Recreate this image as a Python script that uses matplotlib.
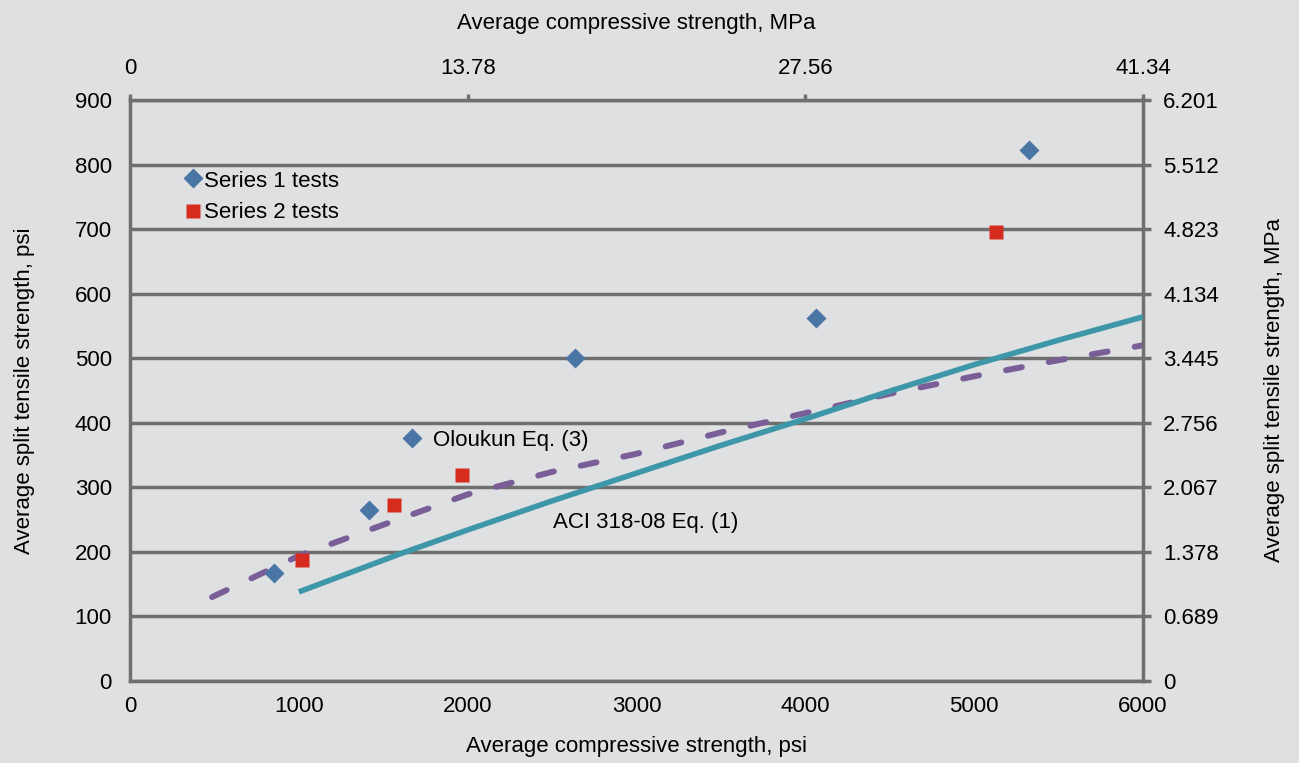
import numpy as np
import matplotlib
matplotlib.use("Agg")
import matplotlib.pyplot as plt

plt.rcParams['font.family'] = ['Liberation Sans', 'DejaVu Sans']

# data (psi)
s1_fc = [853, 1416, 2636, 4063, 5325]
s1_ft = [167, 265, 500, 562, 822]
s2_fc = [1019, 1564, 1966, 5129]
s2_ft = [187, 273, 319, 695]

aci_fc = [1000, 1600, 2000, 2500, 3000, 3500, 4000, 4500, 5000, 5500, 6000]
aci_ft = [138, 197, 234, 279, 322, 365, 406, 449, 490, 528, 564]

olo_fc = [486, 1000, 1500, 2000, 2500, 3000, 3500, 4000, 4500, 5000, 5500, 6000]
olo_ft = [130, 194, 242, 289, 324, 352, 385, 415, 445, 472, 497, 520]

y_ticks = [0, 100, 200, 300, 400, 500, 600, 700, 800, 900]
mpa_right = ['0', '0.689', '1.378', '2.067', '2.756', '3.445', '4.134', '4.823', '5.512', '6.201']
x_ticks = [0, 1000, 2000, 3000, 4000, 5000, 6000]
top_ticks = [0, 2000, 4000, 6000]
mpa_top = ['0', '13.78', '27.56', '41.34']

bg = '#dfe0e2'
gc = '#6f6f6f'
blue = '#4a76a6'
red = '#d62b1f'
teal = '#3e97a8'
purple = '#7a5e98'
fs = 16

fig = plt.figure(figsize=(12.99, 7.63), dpi=100, facecolor=bg)
ax = fig.add_axes([130/1299, 82/763, 1013/1299, 581/763])
ax.set_facecolor(bg)

ax.plot(aci_fc, aci_ft, color=teal, lw=4.0, solid_capstyle='butt', zorder=3)
ax.plot(olo_fc, olo_ft, color=purple, lw=4.3, dashes=(2.7, 4.6),
        dash_capstyle='round', zorder=2)
ax.plot(s1_fc, s1_ft, 'D', color=blue, ms=10, mec='none', zorder=4)
ax.plot(s2_fc, s2_ft, 's', color=red, ms=10, mec='none', zorder=4)

ax.set_xlim(0, 6000)
ax.set_ylim(0, 900)
ax.set_xticks(x_ticks)
ax.set_yticks(y_ticks)
ax.tick_params(axis='y', length=0, labelsize=fs, pad=13)
ax.tick_params(axis='x', length=0, labelsize=fs, pad=11)
ax.yaxis.grid(True, color=gc, lw=2.5)
ax.set_axisbelow(True)
for s in ax.spines.values():
    s.set_color(gc)
    s.set_linewidth(2.5)

ax.set_xlabel('Average compressive strength, psi', fontsize=fs)
ax.set_ylabel('Average split tensile strength, psi', fontsize=fs)
ax.xaxis.set_label_coords(0.5, -0.094)
ax.yaxis.set_label_coords(-0.094, 0.5)

# right axis (MPa)
axr = ax.twinx()
axr.set_ylim(0, 900)
axr.set_yticks(y_ticks)
axr.set_yticklabels(mpa_right)
axr.tick_params(axis='y', length=5.5, width=2.5, color=gc, labelsize=fs, pad=9)
axr.set_ylabel('Average split tensile strength, MPa', fontsize=fs)
axr.yaxis.set_label_coords(1.119, 0.5)
for s in axr.spines.values():
    s.set_visible(False)

# top axis (MPa)
axt = ax.twiny()
axt.set_xlim(0, 6000)
axt.set_xticks(top_ticks)
axt.set_xticklabels(mpa_top)
axt.tick_params(axis='x', length=4, width=2.5, color=gc, labelsize=fs, pad=11)
axt.set_xlabel('Average compressive strength, MPa', fontsize=fs)
axt.xaxis.set_label_coords(0.5, 1.122)
for s in axt.spines.values():
    s.set_visible(False)

# legend-like annotations
ax.plot([373], [779], 'D', color=blue, ms=10, mec='none', clip_on=False)
ax.text(438, 774, 'Series 1 tests', fontsize=fs, va='center')
ax.plot([373], [728], 's', color=red, ms=10, mec='none', clip_on=False)
ax.text(438, 725, 'Series 2 tests', fontsize=fs, va='center')
ax.plot([1670], [376], 'D', color=blue, ms=10, mec='none')
ax.text(1795, 373, 'Oloukun Eq. (3)', fontsize=fs, va='center')
ax.text(2505, 246, 'ACI 318-08 Eq. (1)', fontsize=fs, va='center')

fig.savefig('out.png', dpi=100, facecolor=bg)
